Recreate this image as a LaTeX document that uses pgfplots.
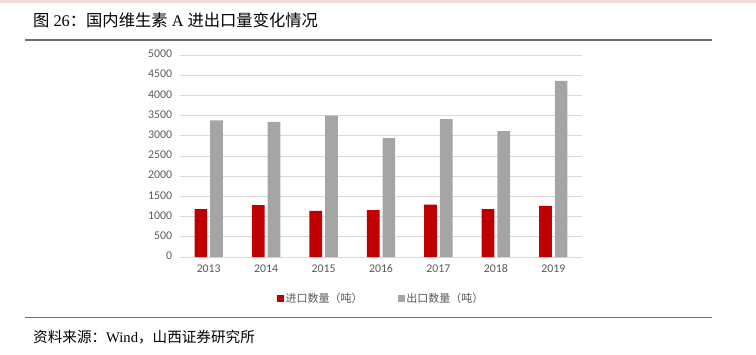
\documentclass[border=0pt]{standalone}
\usepackage{pgfplots}
\pgfplotsset{compat=1.18}
\usepackage{fontspec}
\setmainfont{Liberation Serif}
\newfontfamily\cjk{Noto Sans CJK SC}
\newfontfamily\tickfont{Carlito}
\definecolor{barred}{HTML}{C00000}
\definecolor{bargray}{HTML}{A5A5A5}
\definecolor{gridc}{HTML}{D9D9D9}
\definecolor{tickc}{HTML}{595959}
\definecolor{rulec}{HTML}{6E6E6E}
\definecolor{pinkc}{HTML}{F2DCDB}
\begin{document}
\begin{tikzpicture}[x=1bp,y=-1bp]
\useasboundingbox (0,0) rectangle (756,354);
\fill[pinkc] (0,0) rectangle (756,3);
\node[anchor=west,inner sep=0pt,font=\fontsize{16.3bp}{18bp}\selectfont] at (33,20) {{\cjk 图} 26{\cjk ：国内维生素} A {\cjk 进出口量变化情况}};
\draw[rulec,line width=1.5bp] (25,40) -- (712,40);
\draw[rulec,line width=1.5bp] (25,317.5) -- (712,317.5);
\node[anchor=west,inner sep=0pt,font=\fontsize{14.6bp}{16bp}\selectfont] at (33,337) {{\cjk 资料来源：}Wind{\cjk ，山西证券研究所}};
\begin{axis}[
  at={(180bp,-257bp)}, anchor=south west,
  scale only axis, width=402bp, height=202bp,
  xmin=-0.5, xmax=6.5, ymin=0, ymax=5000,
  ybar=3bp, bar width=12.7bp,
  xtick={0,...,6}, xticklabels={2013,2014,2015,2016,2017,2018,2019},
  ytick={0,500,...,5000},
  ymajorgrids, grid style={gridc,line width=0.8bp},
  axis x line*=bottom, axis y line*=left,
  x axis line style={gridc,line width=0.8bp,-},
  y axis line style={draw=none},
  major tick length=0pt,
  typeset ticklabels with strut,
  tick label style={font=\fontsize{11.8bp}{13bp}\selectfont\tickfont, text=tickc},
  /pgf/number format/assume math mode=true,
  /pgf/number format/set thousands separator={},
  yticklabel style={xshift=-4.5bp},
  xticklabel style={yshift=-3bp},
  legend style={at={(0.5,-0.16)}, anchor=north, draw=none, fill=none,
    font=\fontsize{11bp}{12bp}\selectfont\cjk, text=tickc, legend columns=2,
    /tikz/every even column/.append style={column sep=33bp}},
  legend image code/.code={\fill[#1] (0bp,-3.5bp) rectangle (7bp,3.5bp);},
]
\addplot[fill=barred, draw=none] coordinates {(0,1188) (1,1282) (2,1141) (3,1158) (4,1299) (5,1183) (6,1265)};
\addplot[fill=bargray, draw=none] coordinates {(0,3382) (1,3348) (2,3497) (3,2943) (4,3414) (5,3117) (6,4357)};
\legend{进口数量（吨）,出口数量（吨）}
\end{axis}
\end{tikzpicture}
\end{document}
